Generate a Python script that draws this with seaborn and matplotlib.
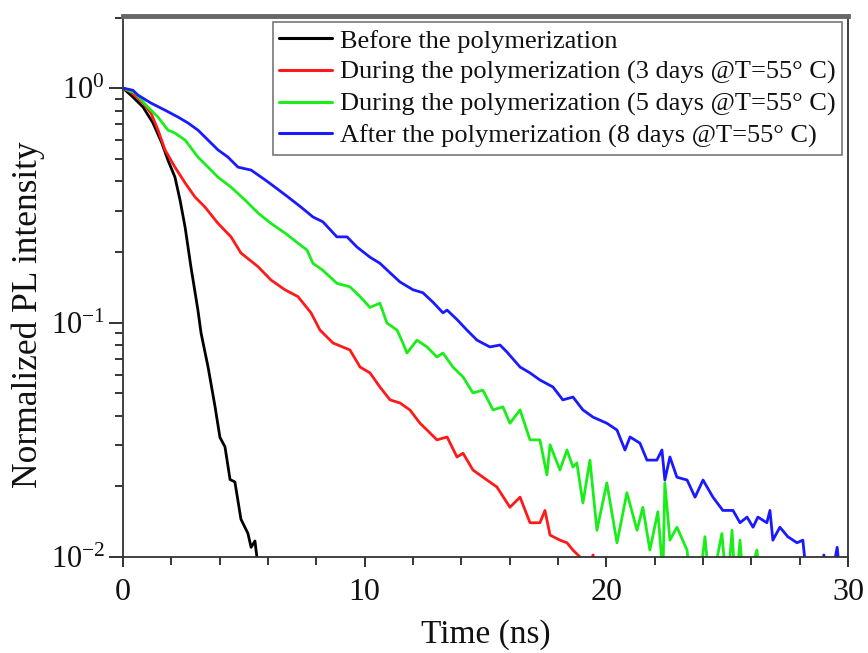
import numpy as np
import pandas as pd
import matplotlib
matplotlib.use("Agg")
import matplotlib.pyplot as plt
import matplotlib.ticker as mticker
import seaborn as sns

# ---------------- data ----------------
labels = [
    "Before the polymerization",
    "During the polymerization (3 days @T=55\u00b0 C)",
    "During the polymerization (5 days @T=55\u00b0 C)",
    "After the polymerization (8 days @T=55\u00b0 C)",
]
colors = ["#000000", "#ff1a1a", "#1aee1a", "#1a1aff"]

black_t = [0, 0.41, 0.83, 1.24, 1.61, 1.86, 2.15, 2.36, 2.57, 2.81, 3.10, 3.23, 3.52,
           3.81, 4.01, 4.22, 4.43, 4.63, 4.88, 5.17, 5.30, 5.46, 5.54, 5.60]
black_i = [1.0, 0.916, 0.830, 0.710, 0.582, 0.493, 0.417, 0.333, 0.255, 0.173, 0.113,
           0.0902, 0.0646, 0.0437, 0.0324, 0.0295, 0.0214, 0.0209, 0.0145, 0.0126,
           0.0110, 0.0117, 0.0100, 0.0080]

red_t = [0, 0.33, 0.83, 1.16, 1.45, 1.74, 2.15, 2.57, 2.98, 3.39, 3.93, 4.47, 4.88,
         5.59, 6.12, 6.70, 7.24, 7.78, 8.15, 8.69, 9.39, 9.81, 10.22, 10.63, 11.05,
         11.46, 11.87, 12.29, 12.58, 12.99, 13.41, 13.82, 14.07, 14.48, 15.06, 15.47,
         16.01, 16.43, 16.84, 17.25, 17.46, 17.67, 18.08, 18.37, 18.62, 18.91, 19.10,
         19.45, 19.60]
red_i = [1.0, 0.962, 0.863, 0.782, 0.662, 0.545, 0.460, 0.394, 0.343, 0.311, 0.265,
         0.232, 0.198, 0.173, 0.152, 0.138, 0.129, 0.110, 0.0929, 0.0818, 0.0764,
         0.0646, 0.0610, 0.0531, 0.0468, 0.0454, 0.0424, 0.0372, 0.0348, 0.0316,
         0.0325, 0.0267, 0.0277, 0.0235, 0.0213, 0.0199, 0.0163, 0.0180, 0.0140,
         0.0140, 0.0158, 0.0124, 0.0118, 0.0115, 0.0107, 0.0100, 0.0080, 0.0102,
         0.0080]

green_t = [0, 0.50, 1.03, 1.45, 1.86, 2.15, 2.57, 3.10, 3.52, 3.93, 4.47, 5.05, 5.59,
           6.12, 6.70, 7.24, 7.61, 7.86, 8.27, 8.85, 9.39, 9.81, 10.22, 10.63, 10.92,
           11.34, 11.58, 11.75, 12.16, 12.58, 12.99, 13.24, 13.65, 14.07, 14.48, 14.89,
           15.31, 15.72, 16.01, 16.43, 16.84, 17.25, 17.54, 17.67, 18.08, 18.37, 18.62,
           18.78, 19.03, 19.32, 19.61, 20.02, 20.44, 20.85, 21.27, 21.51, 21.80, 22.13,
           22.34, 22.42, 22.63, 22.92, 23.34, 23.46, 23.80, 24.08, 24.30, 24.78, 25.00,
           25.20, 25.35, 25.53, 25.70, 26.23, 26.40]
green_i = [1.0, 0.953, 0.830, 0.752, 0.662, 0.643, 0.600, 0.508, 0.460, 0.417, 0.378,
           0.333, 0.293, 0.265, 0.241, 0.218, 0.204, 0.179, 0.167, 0.147, 0.142, 0.129,
           0.116, 0.121, 0.0995, 0.0929, 0.0818, 0.0741, 0.0841, 0.0787, 0.0713, 0.0741,
           0.0646, 0.0586, 0.0501, 0.0515, 0.0424, 0.0437, 0.0372, 0.0424, 0.0316,
           0.0316, 0.0224, 0.0301, 0.0235, 0.0286, 0.0242, 0.0252, 0.0170, 0.0259,
           0.0130, 0.0207, 0.0115, 0.0188, 0.0130, 0.0163, 0.0107, 0.0156, 0.0085,
           0.0207, 0.0118, 0.0134, 0.0107, 0.0080, 0.0070, 0.0122, 0.0070, 0.0126,
           0.0070, 0.0130, 0.0070, 0.0118, 0.0070, 0.0107, 0.0070]

blue_t = [0, 0.41, 0.62, 1.16, 1.74, 2.28, 2.69, 3.10, 3.52, 3.93, 4.34, 4.76, 5.30,
          5.88, 6.29, 6.83, 7.36, 7.86, 8.27, 8.85, 9.27, 9.68, 10.22, 10.63, 11.05,
          11.46, 12.00, 12.41, 12.83, 13.24, 13.41, 13.82, 14.23, 14.65, 15.18, 15.60,
          15.89, 16.43, 16.84, 17.25, 17.79, 18.20, 18.62, 19.03, 19.45, 20.02, 20.44,
          20.77, 20.98, 21.39, 21.68, 22.09, 22.30, 22.42, 22.63, 22.92, 23.34, 23.67,
          24.00, 24.41, 24.82, 25.24, 25.53, 25.82, 26.07, 26.27, 26.64, 26.77, 26.89,
          27.18, 27.51, 27.89, 28.13, 28.30, 28.80, 29.00, 29.20, 29.55, 29.75]
blue_i = [1.0, 0.979, 0.933, 0.863, 0.805, 0.752, 0.710, 0.662, 0.600, 0.545, 0.508,
          0.460, 0.447, 0.406, 0.378, 0.343, 0.311, 0.282, 0.269, 0.232, 0.232, 0.210,
          0.190, 0.179, 0.163, 0.149, 0.138, 0.134, 0.122, 0.110, 0.113, 0.103, 0.0929,
          0.0841, 0.0787, 0.0802, 0.0748, 0.0646, 0.0610, 0.0569, 0.0531, 0.0468,
          0.0481, 0.0424, 0.0395, 0.0372, 0.0348, 0.0286, 0.0325, 0.0306, 0.0259,
          0.0259, 0.0286, 0.0213, 0.0267, 0.0219, 0.0213, 0.0180, 0.0213, 0.0180,
          0.0158, 0.0158, 0.0140, 0.0148, 0.0134, 0.0148, 0.0140, 0.0158, 0.0118,
          0.0134, 0.0122, 0.0115, 0.0118, 0.0080, 0.0070, 0.0102, 0.0070, 0.0110,
          0.0070]

x_ticks = [0, 10, 20, 30]

series_t = [black_t, red_t, green_t, blue_t]
series_i = [black_i, red_i, green_i, blue_i]

frames = []
for lab, t, i in zip(labels, series_t, series_i):
    frames.append(pd.DataFrame({"Time": t, "Intensity": i, "Sample": lab}))
df = pd.concat(frames, ignore_index=True)

# ---------------- style ----------------
sns.set_theme(style="ticks")
plt.rcParams["font.family"] = ["Liberation Serif", "DejaVu Serif"]
plt.rcParams["mathtext.fontset"] = "stix"

fig = plt.figure(figsize=(8.68, 6.53), dpi=100)
ax = fig.add_axes([0.1417, 0.147, 0.8353, 0.8285])

sns.lineplot(data=df, x="Time", y="Intensity", hue="Sample", hue_order=labels,
             palette=dict(zip(labels, colors)), estimator=None, sort=False,
             linewidth=2.0, ax=ax, legend=False)

ax.set_yscale("log")
ax.set_xlim(0, 30)
ax.set_ylim(0.01, 2.03)
ax.set_xticks(x_ticks)
ax.set_xticklabels([str(v) for v in x_ticks])
ax.xaxis.set_minor_locator(mticker.MultipleLocator(2))
ax.yaxis.set_major_locator(mticker.LogLocator(base=10, numticks=10))
ax.yaxis.set_minor_locator(mticker.LogLocator(base=10, subs=np.arange(2, 10), numticks=20))
ax.yaxis.set_minor_formatter(mticker.NullFormatter())

ax.tick_params(axis="both", which="major", colors="#222222",
               labelcolor="#111111", width=1.3, direction="out")
ax.tick_params(axis="y", which="major", length=10, pad=3, labelsize=22)
ax.tick_params(axis="x", which="major", length=7, pad=8, labelsize=23)
ax.tick_params(axis="y", which="minor", length=6, width=1.3)
ax.tick_params(axis="x", which="minor", length=6, width=1.3)
ax.tick_params(top=False, right=False, which="both")

for side in ["left", "bottom", "right"]:
    ax.spines[side].set_color("#333333")
    ax.spines[side].set_linewidth(1.3)
ax.spines["top"].set_color("#666666")
ax.spines["top"].set_linewidth(3.5)

ax.set_xlabel("Time (ns)", fontsize=24, color="#111111", labelpad=9)
ax.set_ylabel("Normalized PL intensity", fontsize=25.5, color="#111111")
ax.yaxis.set_label_coords(-0.108, 0.447)

handles = [plt.Line2D([], [], color=c, lw=2.2) for c in colors]
leg = ax.legend(handles, labels, loc="upper right", bbox_to_anchor=(0.992, 0.988),
                fontsize=19, frameon=True, fancybox=False, framealpha=1,
                edgecolor="#777777", handlelength=2.0, handletextpad=0.3,
                borderpad=0.25, labelspacing=0.3, borderaxespad=0)
leg.get_frame().set_linewidth(1.2)
for txt in leg.get_texts():
    txt.set_color("#111111")

fig.savefig("out.png", dpi=100)
